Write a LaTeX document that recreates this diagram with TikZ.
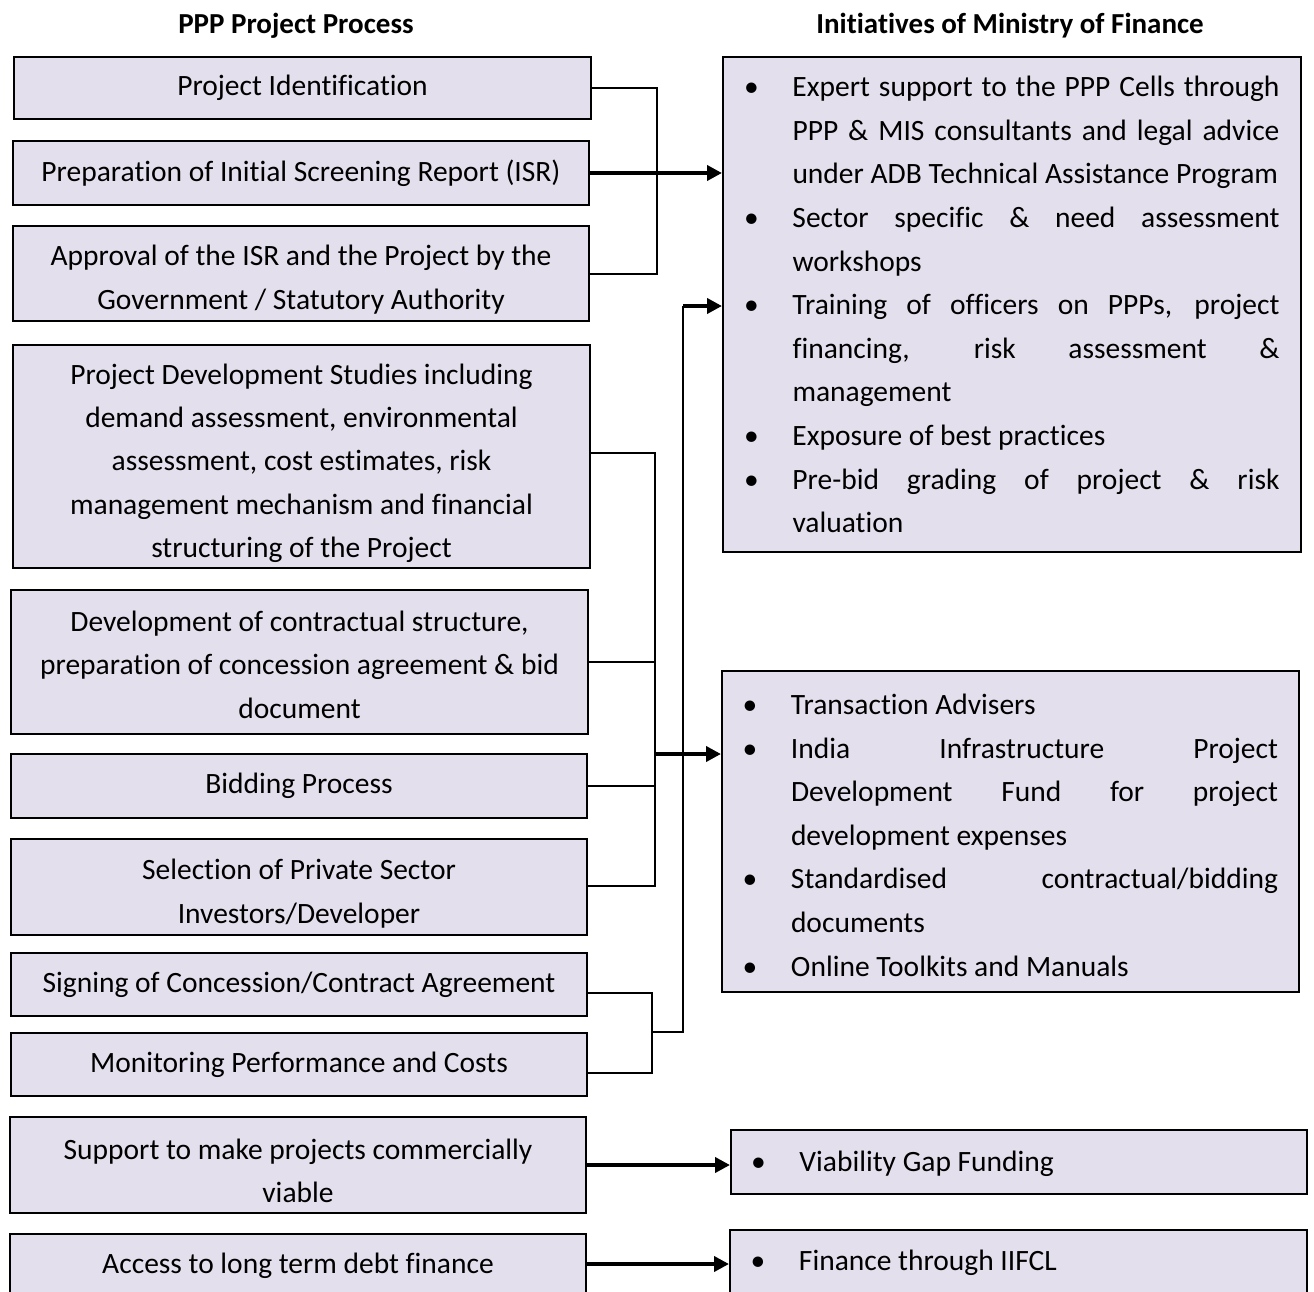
\documentclass[tikz,border=0pt]{standalone}
\usepackage{fontspec}
\setmainfont{Carlito}[Ligatures=NoCommon]
\usepackage{tikz}
\usetikzlibrary{arrows.meta}
\definecolor{lilac}{HTML}{E4DFEC}
\tolerance=10000 \hyphenpenalty=10000
\newcommand\dotitem{\noindent\hangindent=48pt\hangafter=1\makebox[48pt][l]{\makebox[14pt]{\textbullet}}}
\newcommand\lift[1]{\rule{0pt}{#1}}

\begin{document}
\begin{tikzpicture}[x=1pt, y=-1pt, >={Triangle[length=15pt,width=15pt]},
  stage/.style={draw, line width=2pt, fill=lilac, inner sep=0pt, align=center, font=\fontsize{29.5}{43.3}\selectfont},
  initiative/.style={stage, align=justify, text width=535, font=\fontsize{29.5}{43.6}\selectfont},
  link/.style={line width=2pt},
  feed/.style={line width=4pt, ->}]
  \useasboundingbox (0,0) rectangle (1314,1292);
  \node[font=\fontsize{29}{35}\selectfont\bfseries] (headL) at (296,26) {PPP Project Process};
  \node[font=\fontsize{29}{35}\selectfont\bfseries] (headR) at (1010,26) {Initiatives of Ministry of Finance};
  % project process
  \node[stage, minimum width=577, minimum height=62] (p1) at (302.5,88) {Project Identification};
  \node[stage, minimum width=576, minimum height=64] (p2) at (301,173) {Preparation of Initial Screening Report (ISR)};
  \node[stage, minimum width=576, minimum height=95] (p3) at (301,273.5) {\lift{33pt}Approval of the ISR and the Project by the\\Government / Statutory Authority};
  \node[stage, minimum width=577, minimum height=223] (p4) at (301.5,456.5) {\lift{34pt}Project Development Studies including\\demand assessment, environmental\\assessment, cost estimates, risk\\management mechanism and financial\\structuring of the Project};
  \node[stage, minimum width=577, minimum height=144] (p5) at (299.5,662) {\lift{26pt}Development of contractual structure,\\preparation of concession agreement \& bid\\document};
  \node[stage, minimum width=576, minimum height=64] (p6) at (299,786) {Bidding Process};
  \node[stage, minimum width=576, minimum height=96] (p7) at (299,887) {\lift{34pt}Selection of Private Sector\\Investors/Developer};
  \node[stage, minimum width=576, minimum height=63] (p8) at (299,984.5) {Signing of Concession/Contract Agreement};
  \node[stage, minimum width=576, minimum height=63] (p9) at (299,1064.5) {Monitoring Performance and Costs};
  \node[stage, minimum width=576, minimum height=96] (p10) at (298,1165) {\lift{32pt}Support to make projects commercially\\viable};
  \node[stage, minimum width=576, text height=39, text depth=40] (p11) at (298,1273.5) {Access to long term debt finance};
  % initiatives
  \node[initiative, minimum width=578, minimum height=495] (m1) at (1012,304.5) {%
    \dotitem Expert support to the PPP Cells through\linebreak PPP \& MIS consultants and legal advice\linebreak under ADB Technical Assistance Program\par
    \dotitem Sector specific \& need assessment\linebreak workshops\par
    \dotitem Training of officers on PPPs, project\linebreak financing, risk assessment \&\linebreak management\par
    \dotitem Exposure of best practices\par
    \dotitem Pre-bid grading of project \& risk\linebreak valuation\par};
  \node[initiative, minimum width=577, minimum height=321] (m2) at (1010.5,831.5) {%
    \dotitem\lift{28pt}Transaction Advisers\par
    \dotitem India Infrastructure Project\linebreak Development Fund for project\linebreak development expenses\par
    \dotitem Standardised contractual/bidding\linebreak documents\par
    \dotitem Online Toolkits and Manuals\par};
  \node[initiative, minimum width=576, text height=41, text depth=23] (m3) at (1019,1162) {\dotitem Viability Gap Funding\par};
  \node[initiative, minimum width=577, text height=40, text depth=40] (m4) at (1018.5,1270) {\dotitem Finance through IIFCL\par};
  % connectors
  \coordinate (j1) at (657,274);
  \draw[link] (p1.east) -| (j1) -- (j1 -| p3.east);
  \draw[feed] (p2.east) -- (p2.east -| m1.west);
  \coordinate (j2) at (655,886);
  \draw[link] ([yshift=4pt]p4.east) -| (j2) -- (j2 -| p7.east);
  \draw[link] (p5.east) -- (p5.east -| j2);
  \draw[link] (p6.east) -- (p6.east -| j2);
  \coordinate (s2) at (655,754);
  \draw[feed] (s2) -- (s2 -| m2.west);
  \coordinate (j3) at (652,1032);
  \coordinate (k3) at (683,306);
  \draw[link] ([yshift=-8pt]p8.east) -| (j3) |- ([yshift=-8pt]p9.east);
  \draw[link] (j3) -| (k3);
  \draw[feed] (k3) -- (k3 -| m1.west);
  \draw[feed] (p10.east) -- (p10.east -| m3.west);
  \coordinate (e11) at ([yshift=-31pt]p11.north east);
  \draw[feed] (e11) -- (e11 -| m4.west);
\end{tikzpicture}
\end{document}
